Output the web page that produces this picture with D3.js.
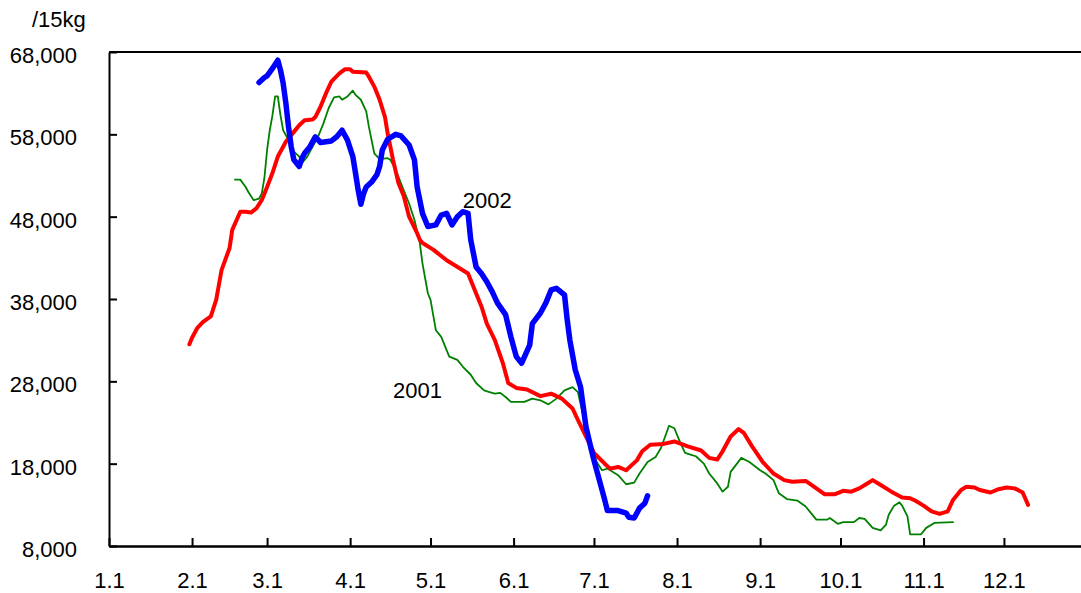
<!DOCTYPE html>
<html><head><meta charset="utf-8">
<script src="https://cdn.jsdelivr.net/npm/d3@7"></script>
<style>
body{margin:0;background:#fff}
svg{display:block}
text{font-family:"Liberation Sans",Arial,sans-serif;fill:#000}
</style>
</head><body>
<svg id="c" width="1081" height="593"></svg>
<script>
// ---- data ----
const unitLabel = "/15kg";
const yTickValues = [8000, 18000, 28000, 38000, 48000, 58000, 68000];
const xTickLabels = ["1.1","2.1","3.1","4.1","5.1","6.1","7.1","8.1","9.1","10.1","11.1","12.1"];
const xTickDates = ["01-01","02-01","03-01","04-01","05-01","06-01","07-01","08-01","09-01","10-01","11-01","12-01"];

// red series (unlabelled)
const redSeries = [["01-31",32500],["02-01",33300],["02-03",34500],["02-05",35200],["02-08",35900],["02-10",37900],["02-11",39700],["02-12",41500],["02-15",44200],["02-16",46400],["02-19",48600],["02-21",48600],["02-23",48500],["02-25",49000],["02-27",50000],["03-01",51600],["03-03",53300],["03-05",55300],["03-07",56500],["03-08",57100],["03-11",58300],["03-13",59100],["03-15",59700],["03-18",59800],["03-19",60100],["03-21",61400],["03-23",63000],["03-25",64400],["03-28",65400],["03-30",65900],["04-01",65900],["04-02",65600],["04-07",65500],["04-08",65000],["04-10",63800],["04-12",62200],["04-14",60100],["04-15",58100],["04-17",54900],["04-19",52100],["04-21",50500],["04-23",48000],["04-26",46000],["04-27",45200],["04-28",44800],["05-02",44000],["05-07",42700],["05-12",41700],["05-15",41100],["05-17",39500],["05-20",37100],["05-22",35000],["05-25",33000],["05-28",30200],["05-30",27800],["06-02",27200],["06-06",27000],["06-11",26200],["06-15",26500],["06-19",25900],["06-23",24700],["06-25",23300],["06-28",21300],["07-01",19300],["07-05",18000],["07-07",17400],["07-10",17600],["07-13",17200],["07-17",18400],["07-19",19500],["07-22",20300],["07-27",20400],["07-31",20700],["08-05",20100],["08-10",19600],["08-13",18700],["08-16",18500],["08-18",19500],["08-21",21300],["08-24",22200],["08-26",21700],["08-29",20100],["09-02",18200],["09-06",16800],["09-10",16000],["09-13",15800],["09-18",15900],["09-22",15000],["09-25",14300],["09-29",14300],["10-02",14700],["10-05",14600],["10-08",15000],["10-11",15600],["10-13",16000],["10-16",15400],["10-20",14600],["10-24",13900],["10-27",13800],["10-29",13500],["11-01",12900],["11-04",12200],["11-07",11900],["11-10",12200],["11-12",13600],["11-15",14800],["11-17",15200],["11-20",15100],["11-22",14800],["11-26",14500],["11-29",14900],["12-02",15100],["12-05",15000],["12-08",14500],["12-10",13000]];

// 2001 (green)
const series2001 = [["02-17",52500],["02-19",52500],["02-21",51600],["02-22",51000],["02-24",50000],["02-26",50200],["02-27",50800],["02-28",52700],["03-01",56100],["03-02",58500],["03-03",60300],["03-04",62600],["03-05",62600],["03-06",60300],["03-07",58500],["03-09",57300],["03-11",55900],["03-13",55300],["03-14",54500],["03-16",55300],["03-18",56500],["03-20",57700],["03-22",59300],["03-24",61200],["03-26",62500],["03-28",62600],["03-29",62200],["03-31",62600],["04-02",63300],["04-03",62800],["04-05",62200],["04-07",60800],["04-08",58900],["04-10",55700],["04-12",55000],["04-15",55100],["04-16",54900],["04-18",53700],["04-21",51200],["04-23",49600],["04-25",47600],["04-27",44800],["04-28",42300],["04-30",38700],["05-01",37900],["05-03",34200],["05-05",33400],["05-07",31800],["05-08",31000],["05-11",30600],["05-13",29800],["05-16",28800],["05-18",27800],["05-21",26900],["05-23",26700],["05-25",26500],["05-27",26600],["05-29",26100],["05-31",25500],["06-05",25500],["06-08",25900],["06-11",25700],["06-14",25200],["06-17",25900],["06-20",26900],["06-23",27300],["06-25",26700],["06-29",20900],["07-02",18200],["07-04",17200],["07-06",17400],["07-10",16600],["07-13",15500],["07-16",15700],["07-18",16800],["07-21",18200],["07-24",18800],["07-26",19900],["07-28",21700],["07-29",22600],["07-31",22300],["08-02",20700],["08-04",19300],["08-06",19100],["08-08",18900],["08-11",18000],["08-13",16800],["08-16",15600],["08-18",14600],["08-20",15200],["08-21",17000],["08-25",18700],["08-28",18200],["09-01",17200],["09-03",16800],["09-06",16000],["09-08",14400],["09-11",13700],["09-15",13500],["09-18",12800],["09-20",12000],["09-22",11200],["09-26",11200],["09-27",11400],["09-30",10700],["10-02",10900],["10-06",10900],["10-08",11400],["10-10",11300],["10-13",10200],["10-16",9900],["10-18",10600],["10-19",11800],["10-21",12900],["10-23",13300],["10-24",12900],["10-26",11600],["10-27",9400],["10-31",9400],["11-02",10200],["11-05",10800],["11-12",10900]];

// 2002 (blue)
const series2002 = [["02-26",64300],["02-28",64900],["03-01",65100],["03-03",66000],["03-05",67000],["03-06",65800],["03-07",64200],["03-08",61800],["03-09",58900],["03-10",56500],["03-11",54900],["03-13",54100],["03-14",55100],["03-15",55700],["03-17",56500],["03-19",57700],["03-21",57000],["03-25",57200],["03-27",57700],["03-29",58500],["03-31",57300],["04-02",55300],["04-03",53300],["04-04",51200],["04-05",49500],["04-06",50800],["04-07",51600],["04-09",52200],["04-11",53100],["04-12",54100],["04-13",56100],["04-15",57400],["04-18",58000],["04-20",57800],["04-23",56700],["04-25",54900],["04-26",51600],["04-28",48400],["04-30",46800],["05-03",47000],["05-05",48200],["05-07",48400],["05-09",47000],["05-11",48000],["05-13",48600],["05-15",48400],["05-16",45200],["05-18",41900],["05-20",41100],["05-22",40100],["05-24",38900],["05-26",37500],["05-29",36100],["05-31",33400],["06-02",31000],["06-04",30200],["06-07",32400],["06-08",35000],["06-11",36300],["06-13",37500],["06-15",39100],["06-17",39300],["06-20",38500],["06-21",35500],["06-22",33000],["06-24",29400],["06-26",27300],["06-27",24900],["06-28",22500],["06-30",19700],["07-01",18400],["07-03",16000],["07-05",13600],["07-06",12300],["07-10",12300],["07-13",12000],["07-14",11500],["07-16",11400],["07-18",12600],["07-20",13200],["07-21",14100]];

const seriesLabels = [
  {text: "2002", date: "05-13", value: 49000},
  {text: "2001", date: "04-17", value: 26000}
];

// ---- chart ----
const svg = d3.select("#c");
const parse = d3.timeParse("%m-%d");
const yearStart = parse("01-01");
const yearEnd = new Date(yearStart.getFullYear() + 1, 0, 1);

const x = d3.scaleTime().domain([yearStart, yearEnd]).range([109, 1087]);
const y = d3.scaleLinear().domain([8000, 68000]).range([546, 52]);

// frame top line
svg.append("line")
  .attr("x1", x(yearStart)).attr("x2", x(yearEnd))
  .attr("y1", y(68000)).attr("y2", y(68000))
  .attr("stroke", "#000").attr("stroke-width", 2);

// x axis
const xAxis = d3.axisBottom(x)
  .tickValues(xTickDates.map(parse))
  .tickFormat((d, i) => xTickLabels[i])
  .tickSizeInner(-8).tickSizeOuter(0);
const gx = svg.append("g").attr("transform", `translate(0,${y(8000)})`).call(xAxis);
gx.select(".domain").attr("stroke", "#000").attr("stroke-width", 2.5);
gx.selectAll(".tick line").attr("stroke", "#000").attr("stroke-width", 2);
gx.selectAll(".tick text").attr("y", 42).attr("dy", 0)
  .style("font-size", "22px").style("font-family", '"Liberation Sans",Arial,sans-serif').attr("fill", "#000");

// y axis
const yAxis = d3.axisLeft(y)
  .tickValues(yTickValues)
  .tickFormat(d3.format(","))
  .tickSizeInner(-8).tickSizeOuter(0);
const gy = svg.append("g").attr("transform", `translate(${x(yearStart)},0)`).call(yAxis);
gy.select(".domain").attr("stroke", "#000").attr("stroke-width", 2);
gy.selectAll(".tick line").attr("stroke", "#000").attr("stroke-width", 2);
gy.selectAll(".tick text").attr("x", -32).attr("dy", 0).attr("y", 10.5)
  .style("font-size", "22px").style("font-family", '"Liberation Sans",Arial,sans-serif').attr("fill", "#000");

// unit label
svg.append("text").attr("x", 32).attr("y", 27)
  .style("font-size", "22px").text(unitLabel);

// lines
const line = d3.line().x(d => x(parse(d[0]))).y(d => y(d[1]));
const series = [
  {data: series2001, color: "#008000", width: 1.8},
  {data: redSeries, color: "#ff0000", width: 4},
  {data: series2002, color: "#0000ff", width: 5.5}
];
svg.selectAll("path.series").data(series).enter().append("path")
  .attr("class", "series")
  .attr("d", s => line(s.data))
  .attr("fill", "none")
  .attr("stroke", s => s.color)
  .attr("stroke-width", s => s.width)
  .attr("stroke-linejoin", "round")
  .attr("stroke-linecap", "round");

// series labels
svg.selectAll("text.lbl").data(seriesLabels).enter().append("text")
  .attr("class", "lbl")
  .attr("x", d => x(parse(d.date)))
  .attr("y", d => y(d.value))
  .style("font-size", "22px")
  .text(d => d.text);
</script>
</body></html>
